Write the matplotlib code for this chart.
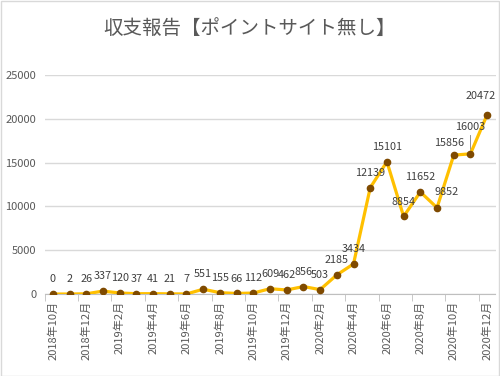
import matplotlib.pyplot as plt
import numpy as np

plt.rcParams['font.family'] = ['Noto Sans CJK JP', 'DejaVu Sans']

months = ['2018年10月', '2018年11月', '2018年12月',
          '2019年1月', '2019年2月', '2019年3月', '2019年4月', '2019年5月', '2019年6月',
          '2019年7月', '2019年8月', '2019年9月', '2019年10月', '2019年11月', '2019年12月',
          '2020年1月', '2020年2月', '2020年3月', '2020年4月', '2020年5月', '2020年6月',
          '2020年7月', '2020年8月', '2020年9月', '2020年10月', '2020年11月', '2020年12月']
income = [0, 2, 26, 337, 120, 37, 41, 21, 7, 551, 155, 66, 112, 609, 462, 856, 503,
          2185, 3434, 12139, 15101, 8854, 11652, 9852, 15856, 16003, 20472]
yticks = [0, 5000, 10000, 15000, 20000, 25000]

# label offsets in points (dx, dy) for the crowded ones
offsets = {23: (7, 8), 24: (-3, 5), 25: (0, 16), 26: (-5, 10)}

fig = plt.figure(figsize=(5, 3.76), dpi=100)
ax = fig.add_axes([0.089, 0.218, 0.902, 0.5825])
fig.patches.append(plt.Rectangle((0.001, 0.001), 0.997, 0.997, transform=fig.transFigure,
                                 fill=False, edgecolor='#d9d9d9', linewidth=1))

x = np.arange(len(months))
ax.plot(x, income, color='#FFC000', linewidth=2.3, zorder=3)
ax.plot(x, income, 'o', color='#7F4A00', markersize=4.5, zorder=4)

for i, v in enumerate(income):
    dx, dy = offsets.get(i, (0, 7))
    ax.annotate(str(v), (i, v), xytext=(dx, dy), textcoords='offset points',
                ha='center', va='bottom', fontsize=7.8, color='#404040', zorder=5)
ax.plot([25, 25], [16003 + 500, 16003 + 2200], color='#808080', linewidth=0.6)

ax.set_xlim(-0.5, len(months) - 0.5)
ax.set_ylim(0, 25000)
ax.set_yticks(yticks)
ax.set_yticklabels([str(t) for t in yticks], fontsize=8, color='#595959')
ax.yaxis.grid(True, color='#d9d9d9', linewidth=1)
ax.set_axisbelow(True)

ax.set_xticks(x[::2])
ax.set_xticklabels(months[::2], rotation=90, fontsize=8, color='#595959')
ax.set_xticks(np.arange(-0.5, len(months), 2), minor=True)
ax.tick_params(axis='x', which='major', length=0, pad=5)
ax.tick_params(axis='x', which='minor', length=5, color='#bfbfbf')
ax.tick_params(axis='y', length=0, pad=6)

for s in ['top', 'right', 'left']:
    ax.spines[s].set_visible(False)
ax.spines['bottom'].set_color('#bfbfbf')

fig.text(0.5, 0.925, '収支報告【ポイントサイト無し】', ha='center', va='center',
         fontsize=14, color='#595959')

fig.savefig('out.png', dpi=100)
